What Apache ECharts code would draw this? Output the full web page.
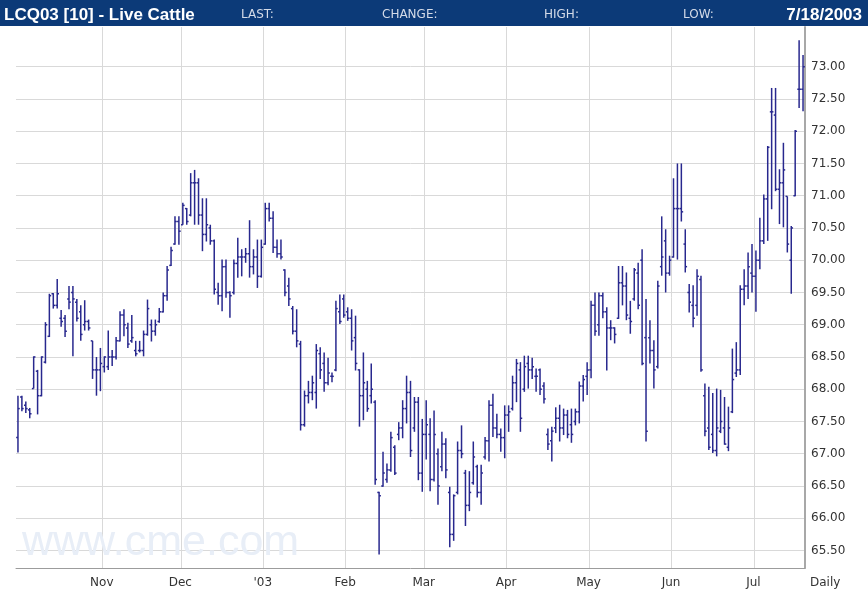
<!DOCTYPE html>
<html><head><meta charset="utf-8">
<script src="https://cdn.jsdelivr.net/npm/echarts@6/dist/echarts.min.js"></script>
<style>html,body{margin:0;padding:0;background:#fff}#c{width:868px;height:591px}</style>
</head><body><div id="c"></div>
<script>
// Trading days per month
const octDays = [2,3,4,7,8,9,10,11,14,15,16,17,18,21,22,23,24,25,28,29,30,31];
const novDays = [1,4,5,6,7,8,11,12,13,14,15,18,19,20,21,22,25,26,27,29];
const decDays = [2,3,4,5,6,9,10,11,12,13,16,17,18,19,20,23,24,26,27,30,31];
const janDays = [2,3,6,7,8,9,10,13,14,15,16,17,21,22,23,24,27,28,29,30,31];
const febDays = [3,4,5,6,7,10,11,12,13,14,17,18,19,20,21,24,25,26,27,28];
const marDays = [3,4,5,6,7,10,11,12,13,14,17,18,19,20,21,24,25,26,27,28,31];
const aprDays = [1,2,3,4,7,8,9,10,11,14,15,16,17,21,22,23,24,25,28,29,30];
const mayDays = [1,2,5,6,7,8,9,12,13,14,15,16,19,20,21,22,23,27,28,29,30];
const junDays = [2,3,4,5,6,9,10,11,12,13,16,17,18,19,20,23,24,25,26,27,30];
const julDays = [1,2,3,7,8,9,10,11,14,15,16,17,18];

// Bars: [open, high, low, close]
const octBars = [[67.25,67.90,67.02,67.70],[67.88,67.90,67.66,67.70],[67.75,67.81,67.63,67.70],[67.68,67.71,67.55,67.62],[68.01,68.51,68.01,68.50],[68.28,68.30,67.61,67.90],[67.90,68.51,67.89,68.50],[68.42,69.04,68.40,69.00],[68.82,69.48,68.81,69.45],[69.48,69.49,69.25,69.30],[69.30,69.71,69.25,69.48],[69.10,69.23,68.97,69.05],[69.10,69.15,68.81,68.90],[69.40,69.60,69.24,69.35],[69.50,69.60,68.51,69.40],[69.35,69.40,69.05,69.10],[69.20,69.30,68.75,68.85],[69.00,69.38,68.91,69.05],[69.05,69.08,68.91,68.95],[68.75,68.75,68.16,68.30],[68.30,68.50,67.90,68.30],[68.30,68.64,67.97,68.40]];
const novBars = [[68.35,68.51,68.26,68.50],[68.35,68.91,68.30,68.50],[68.50,68.61,68.36,68.50],[68.50,68.81,68.46,68.75],[68.75,69.21,68.74,69.15],[69.15,69.24,68.82,69.00],[68.95,69.03,68.64,68.70],[68.75,69.15,68.72,68.80],[68.60,68.75,68.51,68.55],[68.60,68.75,68.57,68.60],[68.60,68.91,68.51,68.85],[68.85,69.39,68.83,69.25],[69.00,69.08,68.74,68.90],[68.90,69.08,68.83,69.00],[69.05,69.26,69.03,69.20],[69.20,69.50,69.19,69.45],[69.45,69.91,69.37,69.85],[69.92,70.21,69.91,70.15],[70.25,70.68,70.24,70.60],[70.60,70.68,70.24,70.45]];
const decBars = [[70.55,70.89,70.55,70.85],[70.80,70.81,70.55,70.60],[70.70,71.35,70.68,71.20],[71.20,71.40,70.55,71.20],[71.20,71.27,70.55,70.70],[70.70,70.96,70.14,70.40],[70.40,70.96,70.29,70.55],[70.50,70.55,70.24,70.30],[70.30,70.32,69.47,69.55],[69.50,69.65,69.31,69.45],[69.45,70.01,69.21,69.90],[69.90,70.01,69.42,69.50],[69.50,69.52,69.11,69.45],[69.50,70.01,69.47,69.95],[69.95,70.35,69.73,70.05],[70.05,70.17,69.75,70.05],[70.05,70.19,69.96,70.10],[70.10,70.62,69.73,69.90],[69.90,70.17,69.78,70.05],[70.05,70.32,69.57,69.75],[69.75,70.32,69.73,70.20]];
const janBars = [[70.25,70.89,70.24,70.80],[70.80,70.89,70.60,70.65],[70.65,70.76,70.11,70.20],[70.20,70.32,70.04,70.10],[70.10,70.32,70.01,70.05],[69.85,69.86,69.44,69.50],[69.60,69.73,69.29,69.40],[69.25,69.29,68.85,68.90],[68.90,69.24,68.65,68.75],[68.70,68.75,67.36,67.45],[67.45,67.98,67.42,67.90],[67.90,68.13,67.78,67.95],[67.95,68.21,67.83,68.10],[67.95,68.70,67.70,68.60],[68.55,68.65,68.16,68.30],[68.40,68.57,67.96,68.10],[68.10,68.49,68.06,68.25],[68.20,68.26,68.11,68.20],[68.30,69.37,68.28,69.25],[69.20,69.47,69.01,69.05],[69.40,69.47,69.11,69.15]];
const febBars = [[69.20,69.27,69.06,69.10],[69.10,69.24,68.60,68.75],[68.80,69.14,68.29,68.40],[68.30,68.31,67.42,67.90],[67.90,68.57,67.52,68.10],[68.00,68.13,67.65,67.70],[67.90,68.40,67.78,68.00],[67.80,67.83,66.52,66.60],[66.40,66.41,65.44,66.35],[66.50,67.03,66.49,66.70],[66.60,66.85,66.55,66.75],[66.75,67.34,66.72,67.25],[67.10,67.13,66.67,66.70],[67.30,67.49,67.21,67.40],[67.40,67.83,67.24,67.70],[67.70,68.21,67.47,67.95],[67.95,68.13,66.95,67.05],[67.40,67.88,67.34,67.80],[67.80,67.88,66.59,66.70],[66.70,67.54,66.41,67.30]];
const marBars = [[67.30,67.83,66.91,67.45],[67.30,67.55,66.42,66.60],[66.60,67.67,66.57,67.30],[67.00,67.08,66.21,66.50],[66.80,67.34,66.73,67.15],[67.15,67.24,66.62,66.75],[66.40,66.49,65.55,65.75],[65.75,66.37,65.65,66.35],[66.40,67.19,66.37,67.05],[67.05,67.44,66.93,67.00],[66.70,66.75,65.88,66.20],[66.20,66.73,66.11,66.40],[66.55,67.19,66.52,66.95],[66.80,66.83,66.32,66.40],[66.40,66.83,66.21,66.70],[66.95,67.26,66.91,67.20],[67.20,67.83,66.88,67.75],[67.75,67.93,67.26,67.40],[67.40,67.62,67.24,67.30],[67.30,67.39,67.03,67.25],[67.25,67.75,66.93,67.60]];
const aprBars = [[67.60,67.75,67.34,67.65],[67.70,68.21,67.67,68.10],[68.10,68.47,67.80,68.40],[68.30,68.42,67.34,67.55],[68.00,68.52,67.96,68.35],[68.40,68.52,68.01,68.30],[68.30,68.49,68.16,68.35],[68.20,68.32,67.96,68.20],[68.30,68.32,67.91,68.00],[68.05,68.11,67.78,67.85],[67.30,67.39,67.06,67.15],[67.20,67.42,66.88,67.35],[67.40,67.72,67.32,67.55],[67.55,67.76,67.19,67.40],[67.40,67.70,67.29,67.60],[67.60,67.68,67.24,67.30],[67.45,67.70,67.17,67.30],[67.50,67.70,67.44,67.65],[67.65,68.12,67.47,68.05],[68.05,68.22,67.81,68.15],[68.20,68.42,67.91,68.30]];
const mayBars = [[68.30,69.37,68.17,69.30],[69.30,69.50,68.83,68.90],[69.00,69.50,68.83,69.45],[69.45,69.50,69.10,69.20],[69.20,69.27,68.29,68.95],[68.95,69.07,68.76,68.95],[68.95,68.96,68.71,68.85],[69.10,69.91,69.09,69.65],[69.65,69.91,69.30,69.60],[69.60,69.81,69.07,69.15],[69.10,69.37,68.86,69.05],[69.40,69.88,69.37,69.85],[69.80,69.96,69.24,69.30],[70.00,70.17,68.37,68.40],[68.80,69.40,67.19,67.35],[68.80,69.07,68.40,68.60],[68.60,68.76,68.01,68.30],[68.35,69.68,68.32,69.60],[69.90,70.68,69.76,70.05],[70.30,70.48,69.50,69.80],[69.80,70.07,69.76,70.00]];
const junBars = [[70.05,71.27,70.04,70.80],[70.80,71.50,70.01,70.80],[70.80,71.50,70.60,70.75],[70.25,70.48,69.81,69.90],[69.50,69.63,69.19,69.35],[69.30,69.61,68.96,69.10],[69.30,69.86,69.14,69.75],[69.70,69.76,68.27,68.30],[67.90,68.09,67.27,67.35],[67.40,68.04,67.06,67.10],[67.30,67.94,67.01,67.05],[67.05,68.01,66.96,67.40],[67.35,67.99,67.32,67.50],[67.40,67.88,67.14,67.15],[67.10,67.73,67.04,67.40],[67.65,68.63,67.63,68.15],[68.25,68.73,68.19,68.30],[68.30,69.61,68.22,69.55],[69.55,69.86,69.30,69.60],[69.60,70.12,69.40,69.90],[69.80,70.25,69.50,69.75]];
const julBars = [[69.75,70.15,69.20,70.00],[70.00,70.66,69.86,70.30],[70.30,71.02,70.25,70.95],[70.95,71.77,70.30,71.75],[72.30,72.67,70.79,72.30],[72.25,72.67,71.07,71.10],[71.10,71.41,70.56,71.20],[71.20,71.82,70.51,71.40],[70.99,70.99,70.12,70.25],[70.00,70.53,69.48,70.50],[71.00,72.02,70.99,72.00],[72.65,73.41,72.36,72.65],[72.65,73.18,72.31,73.00]];

const monthKeys = ['2002-10','2002-11','2002-12','2003-01','2003-02','2003-03','2003-04','2003-05','2003-06','2003-07'];
const monthLabels = ['', 'Nov', 'Dec', "'03", 'Feb', 'Mar', 'Apr', 'May', 'Jun', 'Jul'];
const yTicks = [65.5,66,66.5,67,67.5,68,68.5,69,69.5,70,70.5,71,71.5,72,72.5,73];

const monthDays = [octDays,novDays,decDays,janDays,febDays,marDays,aprDays,mayDays,junDays,julDays];
const monthBars = [octBars,novBars,decBars,janBars,febBars,marBars,aprBars,mayBars,junBars,julBars];

const categories = [];
const ohlc = [];
const labelAt = {};
monthKeys.forEach((ym, m) => {
  const days = monthDays[m], bars = monthBars[m];
  days.forEach((d, k) => {
    if (k >= bars.length) return;
    const idx = categories.length;
    if (k === 0 && monthLabels[m]) labelAt[idx] = monthLabels[m];
    categories.push(ym + '-' + String(d).padStart(2, '0'));
    const b = bars[k];
    ohlc.push([idx, b[0], b[1], b[2], b[3]]);
  });
});

const barColor = '#28288e';
function renderItem(params, api) {
  const i = api.value(0);
  const o = api.coord([i, api.value(1)]);
  const h = api.coord([i, api.value(2)]);
  const l = api.coord([i, api.value(3)]);
  const c = api.coord([i, api.value(4)]);
  const x = h[0];
  const t = 1.8;
  const st = { stroke: barColor, lineWidth: 1.5 };
  return {
    type: 'group',
    children: [
      { type: 'line', shape: { x1: x, y1: h[1], x2: x, y2: l[1] }, style: st },
      { type: 'line', shape: { x1: x - t, y1: o[1], x2: x, y2: o[1] }, style: st },
      { type: 'line', shape: { x1: x, y1: c[1], x2: x + t, y2: c[1] }, style: st }
    ]
  };
}

const chart = echarts.init(document.getElementById('c'), null, { renderer: 'canvas' });
const isMonthStart = (i) => labelAt[i] !== undefined;
chart.setOption({
  animation: false,
  backgroundColor: '#ffffff',
  grid: { left: 16, right: 63, top: 27, bottom: 23, containLabel: false, outerBoundsMode: 'none' },
  xAxis: {
    type: 'category',
    data: categories,
    boundaryGap: true,
    axisLine: { show: true, lineStyle: { color: '#9c9c9c', width: 1 } },
    axisTick: { show: false },
    axisLabel: {
      interval: isMonthStart,
      formatter: (v, i) => labelAt[i] || '',
      color: '#333', fontSize: 12, fontFamily: 'DejaVu Sans', margin: 9,
      padding: [0, 5, 0, 0]
    },
    splitLine: { show: true, interval: isMonthStart, lineStyle: { color: '#d9d9d9', width: 1 } }
  },
  yAxis: {
    type: 'value',
    position: 'right',
    min: 65.229,
    max: 73.615,
    axisLine: { show: true, lineStyle: { color: '#a8a8a8', width: 2 } },
    axisTick: { show: false, customValues: yTicks },
    axisLabel: { customValues: yTicks, formatter: (v) => Number(v).toFixed(2), color: '#333', fontSize: 12, fontFamily: 'DejaVu Sans', margin: 6 },
    splitLine: { show: true, lineStyle: { color: '#d9d9d9', width: 1 } }
  },
  series: [{
    type: 'custom',
    renderItem: renderItem,
    data: ohlc,
    encode: { x: 0, y: [1, 2, 3, 4] },
    z: 5
  }],
  graphic: [
    { type: 'text', z: 1, x: 22, y: 543, style: { text: 'www.cme.com', fill: '#e8eef7', font: '43px "Liberation Sans", Arial, sans-serif', verticalAlign: 'middle' } },
    { type: 'rect', z: 100, shape: { x: 0, y: 0, width: 868, height: 26 }, style: { fill: '#0c3a78' } },
    { type: 'text', z: 101, x: 4, y: 15, style: { text: 'LCQ03 [10] - Live Cattle', fill: '#ffffff', font: 'bold 17px "Liberation Sans", Arial, sans-serif', verticalAlign: 'middle' } },
    { type: 'text', z: 101, x: 241, y: 15, style: { text: 'LAST:', fill: '#d4dbe8', font: '12px "DejaVu Sans", sans-serif', verticalAlign: 'middle' } },
    { type: 'text', z: 101, x: 382, y: 15, style: { text: 'CHANGE:', fill: '#d4dbe8', font: '12px "DejaVu Sans", sans-serif', verticalAlign: 'middle' } },
    { type: 'text', z: 101, x: 544, y: 15, style: { text: 'HIGH:', fill: '#d4dbe8', font: '12px "DejaVu Sans", sans-serif', verticalAlign: 'middle' } },
    { type: 'text', z: 101, x: 683, y: 15, style: { text: 'LOW:', fill: '#d4dbe8', font: '12px "DejaVu Sans", sans-serif', verticalAlign: 'middle' } },
    { type: 'text', z: 101, x: 862, y: 15, style: { text: '7/18/2003', fill: '#ffffff', font: 'bold 17px "Liberation Sans", Arial, sans-serif', align: 'right', verticalAlign: 'middle' } },
    { type: 'text', z: 101, x: 810, y: 583, style: { text: 'Daily', fill: '#333', font: '12px "DejaVu Sans", sans-serif', verticalAlign: 'middle' } }
  ]
});
</script>
</body></html>
